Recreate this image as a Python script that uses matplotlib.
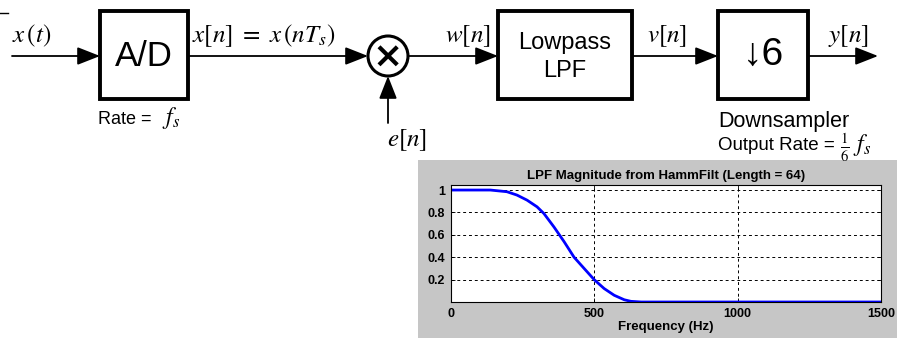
import matplotlib
matplotlib.use("Agg")
import matplotlib.pyplot as plt
from matplotlib.patches import Rectangle, Circle, FancyArrowPatch

plt.rcParams['font.family'] = ['Liberation Sans', 'DejaVu Sans']
plt.rcParams['mathtext.fontset'] = 'stix'

# LPF magnitude response
freq_hz = [0, 60, 138, 196, 231, 266, 301, 325, 360, 395, 430, 465, 500,
           535, 570, 605, 628, 664, 800, 1000, 1200, 1500]
magnitude = [1.0, 1.0, 1.0, 0.985, 0.955, 0.91, 0.85, 0.79, 0.67, 0.54,
             0.40, 0.30, 0.20, 0.12, 0.06, 0.02, 0.006, 0.0, 0.0, 0.0,
             0.0, 0.0]
x_ticks = [0, 500, 1000, 1500]
y_ticks = [0.2, 0.4, 0.6, 0.8, 1]
y_ticklabels = ['0.2', '0.4', '0.6', '0.8', '1']
plot_title = 'LPF Magnitude from HammFilt (Length = 64)'

# block diagram labels
signal_labels = [r'$x\,(t)$', r'$x[n]\ =\ x\,(nT_s)$', r'$w[n]$', r'$v[n]$',
                 r'$y[n]$']
block_labels = ['A/D', 'Lowpass\nLPF', '\u21936']

W, H = 897, 338
fig = plt.figure(figsize=(W / 100, H / 100), dpi=100)

# whole-figure axes in pixel coordinates for the diagram
ax = fig.add_axes([0, 0, 1, 1])
ax.set_xlim(0, W)
ax.set_ylim(H, 0)
ax.axis('off')


def arrow(x0, y0, x1, y1):
    a = FancyArrowPatch((x0, y0), (x1, y1),
                        arrowstyle='-|>,head_length=1.4,head_width=0.55',
                        mutation_scale=10, lw=1.3, color='k',
                        shrinkA=0, shrinkB=0)
    ax.add_patch(a)


def box(x0, x1, y0=11, y1=99):
    ax.add_patch(Rectangle((x0, y0), x1 - x0, y1 - y0, fill=False,
                           lw=2.8, ec='k'))


ymid = 56
box(100, 188)
box(498, 632)
box(718, 808)

ax.text(144, 57, block_labels[0], ha='center', va='center', fontsize=25)
ax.text(565, 57, block_labels[1], ha='center', va='center', fontsize=17,
        linespacing=1.35)
ax.text(763, 55, block_labels[2], ha='center', va='center', fontsize=28)

# multiplier
ax.add_patch(Circle((388, ymid), 20, fill=False, lw=2.2, ec='k'))
ax.text(388, ymid + 1, '\u00d7', ha='center', va='center', fontsize=26,
        fontweight='bold', family=['DejaVu Sans'])

arrow(12, ymid, 100, ymid)
arrow(188, ymid, 368, ymid)
arrow(388, 123, 388, 76)
arrow(408, ymid, 498, ymid)
arrow(632, ymid, 718, ymid)
arrow(808, ymid, 878, ymid)
ax.plot([0, 8], [13, 13], color='k', lw=1)

label_x = [32, 264, 468, 667, 848]
for lx, lab in zip(label_x, signal_labels):
    ax.text(lx, 36, lab, ha='center', va='center', fontsize=18)
ax.text(407, 140, r'$e[n]$', ha='center', va='center', fontsize=18)

# rate annotations (text and math parts sized separately)
ax.text(98, 119, 'Rate =', ha='left', va='center', fontsize=13)
ax.text(162, 118, r'$f_s$', ha='left', va='center', fontsize=17)
ax.text(718, 121, 'Downsampler', ha='left', va='center', fontsize=15.5)
ax.text(718, 146, 'Output Rate =', ha='left', va='center', fontsize=13.5)
ax.text(840, 148, r'$\frac{1}{6}$', ha='left', va='center', fontsize=15)
ax.text(853, 145, r'$f_s$', ha='left', va='center', fontsize=17)

# gray figure panel behind the inset plot
ax.add_patch(Rectangle((418, 160), W - 418, H - 160, color='#c6c6c6', lw=0))

# inset plot
left, right, top, bottom = 450.7, 881, 185, 302
pax = fig.add_axes([left / W, 1 - bottom / H, (right - left) / W,
                    (bottom - top) / H])
pax.plot(freq_hz, magnitude, color='#0000ff', lw=2)
pax.set_xlim(0, 1500)
pax.set_ylim(0, 1.045)
pax.set_xticks(x_ticks)
pax.set_xticklabels([str(t) for t in x_ticks], fontsize=9, fontweight='bold')
pax.set_yticks(y_ticks)
pax.set_yticklabels(y_ticklabels, fontsize=9, fontweight='bold')
pax.grid(True, ls=(0, (3, 3)), color='k', lw=0.7)
pax.tick_params(direction='in', length=3, width=0.6, top=True, right=True,
                pad=4)
for s in pax.spines.values():
    s.set_linewidth(0.8)
pax.set_title(plot_title, fontsize=9.5, fontweight='bold', pad=4)
pax.set_xlabel('Frequency (Hz)', fontsize=9.5, fontweight='bold', labelpad=1)

fig.savefig('out.png', dpi=100)
